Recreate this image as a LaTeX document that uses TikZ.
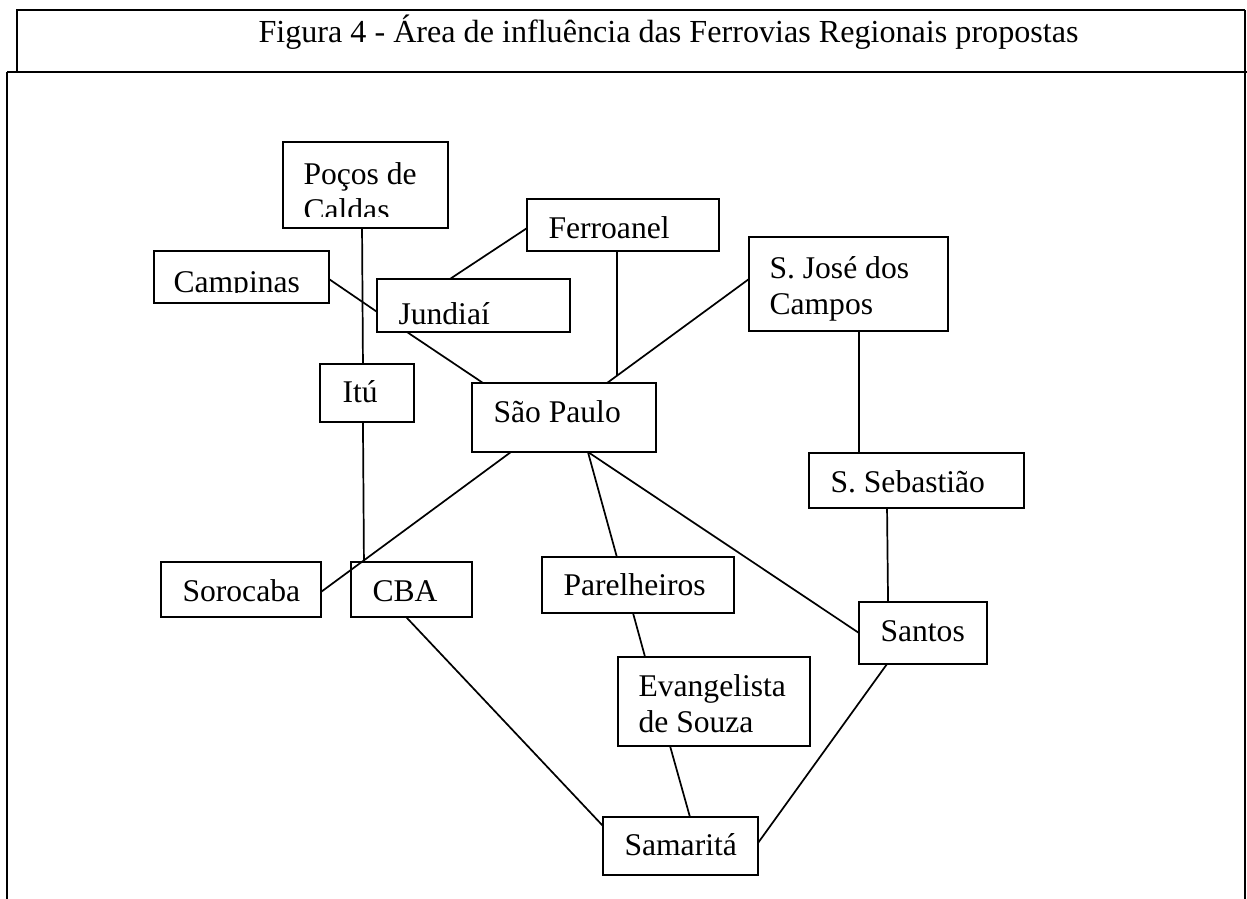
\documentclass[tikz,border=0pt]{standalone}
\usepackage{fontspec}
\setmainfont{Liberation Serif}
\usetikzlibrary{calc}
\newcommand\pxu{0.3797pt}
\tikzset{
  box/.style={draw, rectangle, line width=0.7pt, inner sep=0pt, outer sep=0pt},
  txt/.style={inner sep=0pt, anchor=base west, align=left, font=\fontsize{12}{14}\selectfont},
  link/.style={line width=0.65pt},
  frame/.style={line width=0.95pt},
  thinframe/.style={line width=0.5pt}
}
\newcommand\mkbox[5]{\node[box, minimum width={(#4-#2)*\pxu}, minimum height={(#5-#3)*\pxu}] (#1) at ({(#2+#4)/2},{(#3+#5)/2}) {};}
\begin{document}
\begin{tikzpicture}[x=\pxu, y=-\pxu]
\useasboundingbox (0,0) rectangle (1247,899);
% frame
\draw[frame] (17,71) -- (17,10) -- (1245,10);
\draw[thinframe] (1245,10) -- (1245,899);
\draw[line width=1.1pt] (7,72) -- (1247,72);
\draw[frame] (7,72) -- (7,899);
\node[txt, font=\fontsize{12.2}{14}\selectfont] (title) at (258,43) {Figura 4 - Área de influência das Ferrovias Regionais propostas};
% boxes
\mkbox{poc}{283}{142}{448}{228}
\mkbox{cam}{154}{251}{329}{303}
\mkbox{jun}{377}{279}{570}{332}
\mkbox{fer}{527}{199}{719}{251}
\mkbox{sjc}{749}{237}{948}{331}
\mkbox{itu}{320}{364}{414}{422}
\mkbox{sp}{472}{383}{656}{452}
\mkbox{seb}{809}{453}{1024}{508}
\mkbox{sor}{161}{562}{321}{617}
\mkbox{cba}{351}{562}{472}{617}
\mkbox{par}{542}{557}{734}{613}
\mkbox{san}{859}{602}{987}{664}
\mkbox{eva}{618}{657}{810}{746}
\mkbox{sam}{603}{817}{758}{875}
% texts (base anchor = baseline of the last line)
\begin{scope}
\clip (283,142) rectangle (448,217);
\node[txt] (pocT) at (303,221) {Poços de\\Caldas};
\end{scope}
\begin{scope}
\clip (154,251) rectangle (329,293);
\node[txt] (camT) at (173,293) {Campinas};
\end{scope}
\node[txt] (junT) at (398,325) {Jundiaí};
\node[txt] (ferT) at (548,239) {Ferroanel};
\node[txt] (sjcT) at (769,315) {S. José dos\\Campos};
\node[txt] (ituT) at (342,403) {Itú};
\node[txt] (spT) at (493,423) {São Paulo};
\node[txt] (sebT) at (830,493) {S. Sebastião};
\node[txt] (sorT) at (182,602) {Sorocaba};
\node[txt] (cbaT) at (372,602) {CBA};
\node[txt] (parT) at (563,596) {Parelheiros};
\node[txt] (sanT) at (880,642) {Santos};
\node[txt] (evaT) at (638,733) {Evangelista\\de Souza};
\node[txt] (samT) at (624,856) {Samaritá};
% connectors
\coordinate (sjcW) at ($(sjc.north west)!0.447!(sjc.south west)$);
\coordinate (spN) at ($(sp.north west)!0.734!(sp.north east)$);
\coordinate (fjoin) at ($(sjcW)!0.93!(spN)$);
\coordinate (spS) at ($(sp.south west)!0.63!(sp.south east)$);
\draw[link] ($(poc.south west)!0.479!(poc.south east)$) -- ($(itu.north west)!0.457!(itu.north east)$);
\draw[link] ($(itu.south west)!0.457!(itu.south east)$) -- ($(cba.north west)!0.107!(cba.north east)$);
\draw[link] ($(cam.north east)!0.54!(cam.south east)$) -- ($(jun.north west)!0.62!(jun.south west)$);
\draw[link] ($(fer.north west)!0.56!(fer.south west)$) -- ($(jun.north west)!0.378!(jun.north east)$);
\draw[link] ($(jun.south west)!0.155!(jun.south east)$) -- ($(sp.north west)!0.06!(sp.north east)$);
\draw[link] (sjcW) -- (spN);
\draw[link] ($(fer.south west)!0.469!(fer.south east)$) -- (fjoin);
\draw[link] ($(sjc.south west)!0.553!(sjc.south east)$) -- ($(seb.north west)!0.233!(seb.north east)$);
\draw[link] ($(seb.south west)!0.363!(seb.south east)$) -- ($(san.north west)!0.227!(san.north east)$);
\draw[link] ($(sp.south west)!0.212!(sp.south east)$) -- ($(sor.north east)!0.545!(sor.south east)$);
\draw[link] (spS) -- ($(par.north west)!0.39!(par.north east)$);
\draw[link] (spS) -- ($(san.north west)!0.5!(san.south west)$);
\draw[link] ($(par.south west)!0.474!(par.south east)$) -- ($(eva.north west)!0.141!(eva.north east)$);
\draw[link] ($(eva.south west)!0.271!(eva.south east)$) -- ($(sam.north west)!0.561!(sam.north east)$);
\draw[link] ($(cba.south west)!0.455!(cba.south east)$) -- ($(sam.north west)!0.155!(sam.south west)$);
\draw[link] ($(san.south west)!0.219!(san.south east)$) -- ($(sam.north east)!0.448!(sam.south east)$);
\end{tikzpicture}
\end{document}
